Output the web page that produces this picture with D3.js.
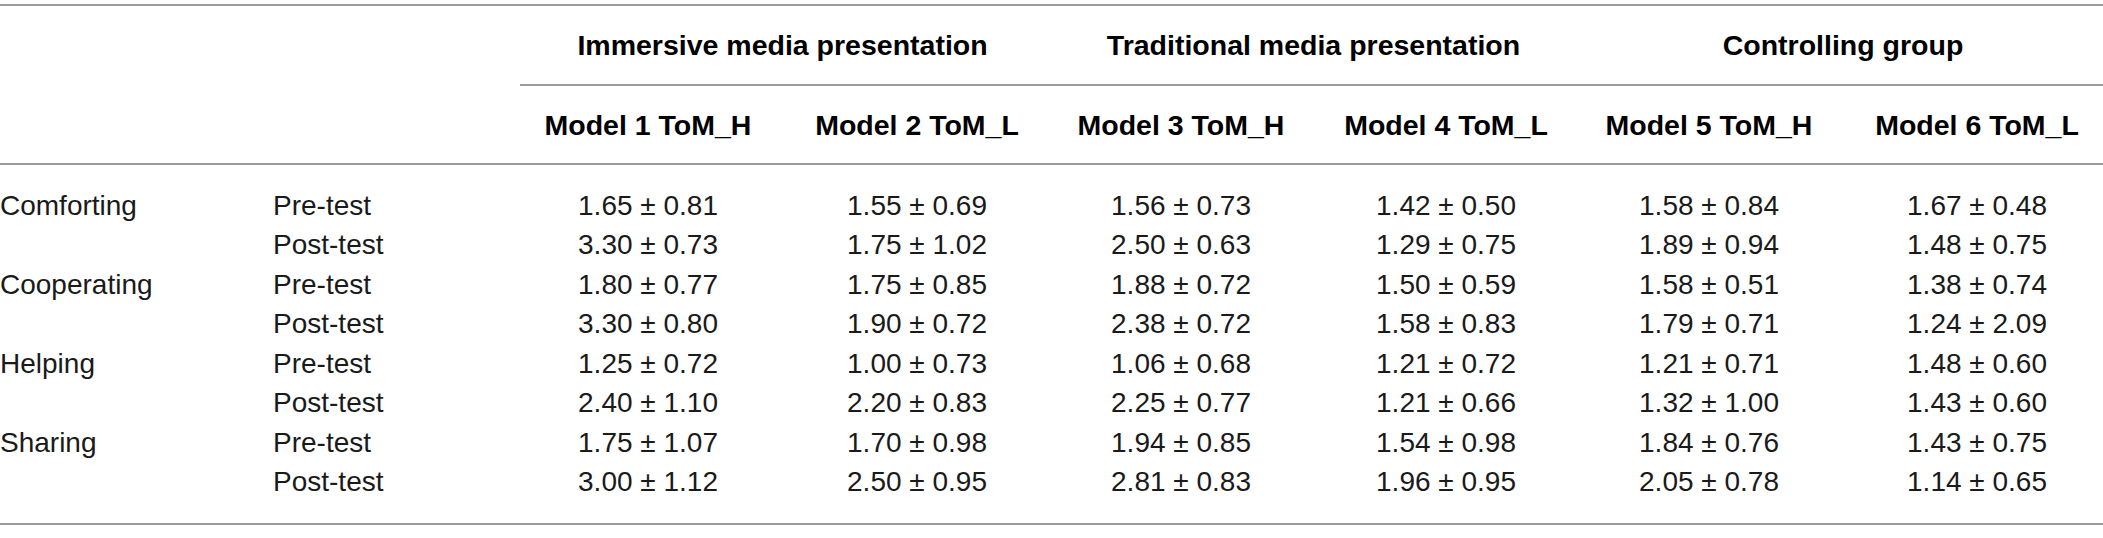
<!DOCTYPE html>
<html lang="en">
<head>
  <meta charset="UTF-8">
  <title>Prosocial behaviour by ToM group</title>
  <script src="https://d3js.org/d3.v7.min.js"></script>
  <style>
    body { margin: 0; background: #fff; }
    text { font-family: "Liberation Sans", Arial, Helvetica, sans-serif; }
    .head { font-size: 28.5px; font-weight: bold; fill: #000; }
    .cell { font-size: 28px; fill: #1a1a1a; }
    .rule { stroke: #9a9a9a; stroke-width: 2; }
  </style>
</head>
<body>
<div id="table"></div>

<script>
// table content
var behaviours = ["Comforting", "Cooperating", "Helping", "Sharing"];
var phases = ["Pre-test", "Post-test"];
var groups = ["Immersive media presentation", "Traditional media presentation", "Controlling group"];
var models = ["Model 1 ToM_H", "Model 2 ToM_L", "Model 3 ToM_H", "Model 4 ToM_L", "Model 5 ToM_H", "Model 6 ToM_L"];

// mean and sd per model, rows go behaviour x (pre, post)
var mean1 = [1.65, 3.30, 1.80, 3.30, 1.25, 2.40, 1.75, 3.00];
var sd1   = [0.81, 0.73, 0.77, 0.80, 0.72, 1.10, 1.07, 1.12];
var mean2 = [1.55, 1.75, 1.75, 1.90, 1.00, 2.20, 1.70, 2.50];
var sd2   = [0.69, 1.02, 0.85, 0.72, 0.73, 0.83, 0.98, 0.95];
var mean3 = [1.56, 2.50, 1.88, 2.38, 1.06, 2.25, 1.94, 2.81];
var sd3   = [0.73, 0.63, 0.72, 0.72, 0.68, 0.77, 0.85, 0.83];
var mean4 = [1.42, 1.29, 1.50, 1.58, 1.21, 1.21, 1.54, 1.96];
var sd4   = [0.50, 0.75, 0.59, 0.83, 0.72, 0.66, 0.98, 0.95];
var mean5 = [1.58, 1.89, 1.58, 1.79, 1.21, 1.32, 1.84, 2.05];
var sd5   = [0.84, 0.94, 0.51, 0.71, 0.71, 1.00, 0.76, 0.78];
var mean6 = [1.67, 1.48, 1.38, 1.24, 1.48, 1.43, 1.43, 1.14];
var sd6   = [0.48, 0.75, 0.74, 2.09, 0.60, 0.60, 0.75, 0.65];

var means = [mean1, mean2, mean3, mean4, mean5, mean6];
var sds = [sd1, sd2, sd3, sd4, sd5, sd6];

var width = 2103, height = 538;

var svg = d3.select("#table")
  .append("svg")
    .attr("width", width)
    .attr("height", height);

// column centres for the six models
var x = d3.scaleOrdinal()
  .domain(models)
  .range([648, 917, 1181, 1446, 1709, 1977]);

// body row baselines
var rowIds = d3.range(behaviours.length * phases.length);
var y = d3.scalePoint()
  .domain(rowIds)
  .range([215, 491]);

// horizontal rules
svg.append("line").attr("class", "rule").attr("x1", 0).attr("x2", width).attr("y1", 5).attr("y2", 5);
svg.append("line").attr("class", "rule").attr("x1", 520).attr("x2", width).attr("y1", 85).attr("y2", 85);
svg.append("line").attr("class", "rule").attr("x1", 0).attr("x2", width).attr("y1", 164).attr("y2", 164);
svg.append("line").attr("class", "rule").attr("x1", 0).attr("x2", width).attr("y1", 524).attr("y2", 524);

// group headers, centred over their two models
svg.selectAll(".group")
  .data(groups)
  .enter().append("text")
  .attr("class", "head group")
  .attr("text-anchor", "middle")
  .attr("x", function(d, i) { return (x(models[2 * i]) + x(models[2 * i + 1])) / 2; })
  .attr("y", 55)
  .text(function(d) { return d; });

// model headers
svg.selectAll(".model")
  .data(models)
  .enter().append("text")
  .attr("class", "head model")
  .attr("text-anchor", "middle")
  .attr("x", function(d) { return x(d); })
  .attr("y", 135)
  .text(function(d) { return d; });

// behaviour labels
svg.selectAll(".beh")
  .data(behaviours)
  .enter().append("text")
  .attr("class", "cell beh")
  .attr("x", 0)
  .attr("y", function(d, i) { return y(i * 2); })
  .text(function(d) { return d; });

// phase labels
svg.selectAll(".phase")
  .data(rowIds)
  .enter().append("text")
  .attr("class", "cell phase")
  .attr("x", 273)
  .attr("y", function(d) { return y(d); })
  .text(function(d) { return phases[d % 2]; });

// mean ± sd cells
var cells = [];
models.forEach(function(m, j) {
  rowIds.forEach(function(r) {
    cells.push({ model: m, row: r, mean: means[j][r], sd: sds[j][r] });
  });
});

svg.selectAll(".val")
  .data(cells)
  .enter().append("text")
  .attr("class", "cell val")
  .attr("text-anchor", "middle")
  .attr("x", function(d) { return x(d.model); })
  .attr("y", function(d) { return y(d.row); })
  .text(function(d) { return d.mean.toFixed(2) + " \u00b1 " + d.sd.toFixed(2); });

</script>
</body>
</html>
